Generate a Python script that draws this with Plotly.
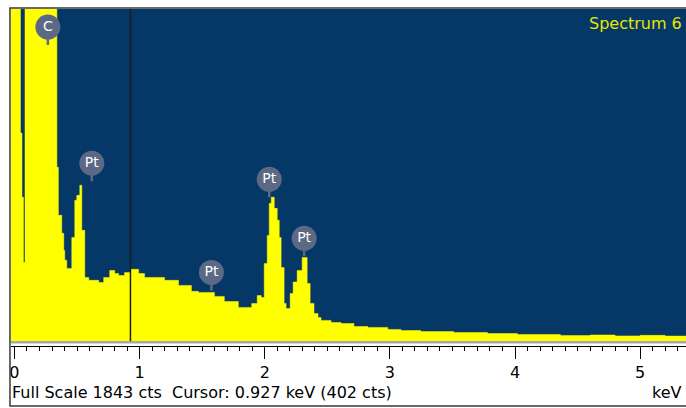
import plotly.graph_objects as go

W, H = 686, 408

# Spectrum (step breakpoints): energy in keV, counts
energy_kev = [-0.03, 0.048, 0.060, 0.072, 0.084, 0.339, 0.351, 0.378, 0.394, 0.402, 0.418,
              0.458, 0.482, 0.498, 0.522, 0.538, 0.562, 0.594, 0.673, 0.713, 0.761, 0.801,
              0.833, 0.880, 0.928, 0.992, 1.040, 1.199, 1.311, 1.414, 1.470, 1.598, 1.677,
              1.789, 1.896, 1.940, 1.972, 1.996, 2.020, 2.036, 2.052, 2.076, 2.100, 2.116,
              2.131, 2.155, 2.171, 2.203, 2.227, 2.259, 2.299, 2.339, 2.363, 2.394, 2.426,
              2.450, 2.530, 2.610, 2.713, 2.825, 2.984, 3.088, 3.247, 3.510, 3.781, 4.020,
              4.363, 4.600, 4.800, 5.000, 5.200, 5.400]
counts = [2500, 1155, 800, 438, 2500, 966, 700, 600, 505, 450, 405,
          577, 783, 810, 866, 616, 355, 339, 327, 355, 394, 377,
          366, 383, 400, 377, 355, 339, 311, 278, 272, 250, 222,
          189, 211, 255, 244, 433, 588, 766, 800, 738, 672, 577,
          410, 211, 183, 266, 330, 394, 466, 322, 211, 155, 133,
          117, 105, 100, 83, 78, 67, 61, 55, 50, 44, 39,
          33, 36, 31, 34, 30, 32]

# Element labels
label_text = ["C", "Pt", "Pt", "Pt", "Pt"]
label_kev = [0.267, 0.618, 1.574, 2.036, 2.315]
label_cts = [1743, 988, 383, 899, 572]

full_scale = 1843
cursor_kev = 0.927
cursor_cts = 402
spectrum_name = "Spectrum 6"

x_range = [(9 - 12.5) / 125.5, (686 - 12.5) / 125.5]

BLUE = "#053767"
YELLOW = "#ffff00"
LABEL = "#5b6985"
FONT = "DejaVu Sans"

fig = go.Figure()
fig.add_trace(go.Scatter(
    x=energy_kev, y=counts, mode="lines", line=dict(shape="hv", color=YELLOW, width=0.5),
    fill="tozeroy", fillcolor=YELLOW, hoverinfo="skip", showlegend=False))

# cursor line
fig.add_trace(go.Scatter(
    x=[cursor_kev, cursor_kev], y=[0, full_scale], mode="lines",
    line=dict(color="#1c1c1c", width=1.5), showlegend=False, hoverinfo="skip"))

# element labels
fig.add_trace(go.Scatter(
    x=label_kev, y=label_cts, mode="markers+text", text=label_text,
    textposition="middle center",
    textfont=dict(color="white", size=14, family=FONT),
    marker=dict(size=25, color=LABEL, line=dict(width=0)),
    error_y=dict(type="data", symmetric=False, array=[0] * len(label_kev),
                 arrayminus=[100] * len(label_kev), color=LABEL, thickness=2.5, width=0),
    showlegend=False, hoverinfo="skip"))

y_bot = 1 - 341.5 / H
y_top = 1 - 9 / H
fig.update_layout(
    width=W, height=H, margin=dict(l=0, r=0, t=0, b=0),
    paper_bgcolor="white", plot_bgcolor=BLUE,
    font=dict(family=FONT, color="black", size=16),
    xaxis=dict(domain=[9 / W, 1], range=x_range, anchor="free", position=1 - 345.5 / H,
               showgrid=False, zeroline=False, showline=True, linecolor="black", linewidth=1,
               tickmode="linear", tick0=0, dtick=1, ticks="outside", ticklen=12,
               tickcolor="black", tickwidth=1.2, tickfont=dict(size=16),
               minor=dict(tickmode="linear", tick0=0, dtick=0.1, ticks="outside",
                          ticklen=4, tickcolor="black", tickwidth=1.2)),
    yaxis=dict(domain=[y_bot, y_top], range=[0, full_scale], visible=False,
               showgrid=False, zeroline=False),
    shapes=[
        dict(type="line", xref="paper", yref="paper", x0=9 / W, x1=1,
             y0=1 - 342.6 / H, y1=1 - 342.6 / H, line=dict(color="#a8a8a8", width=2)),
        dict(type="rect", xref="paper", yref="paper", x0=8 / W, x1=1.01,
             y0=1 - 406 / H, y1=1 - 8 / H, line=dict(color="#3a3a3a", width=1.5)),
    ],
    annotations=[
        dict(text=spectrum_name, xref="paper", yref="paper", x=684 / W, y=1 - 23 / H,
             xanchor="right", yanchor="middle", showarrow=False,
             font=dict(color="#e6e600", size=16)),
        dict(text=f"Full Scale {full_scale} cts  Cursor: {cursor_kev} keV ({cursor_cts} cts)",
             xref="paper", yref="paper", x=8 / W, y=1 - 392 / H, xanchor="left",
             yanchor="middle", showarrow=False, font=dict(size=16)),
        dict(text="keV", xref="paper", yref="paper", x=684 / W, y=1 - 392 / H, xanchor="right",
             yanchor="middle", showarrow=False, font=dict(size=16)),
    ],
)

fig.write_html("out.html")
